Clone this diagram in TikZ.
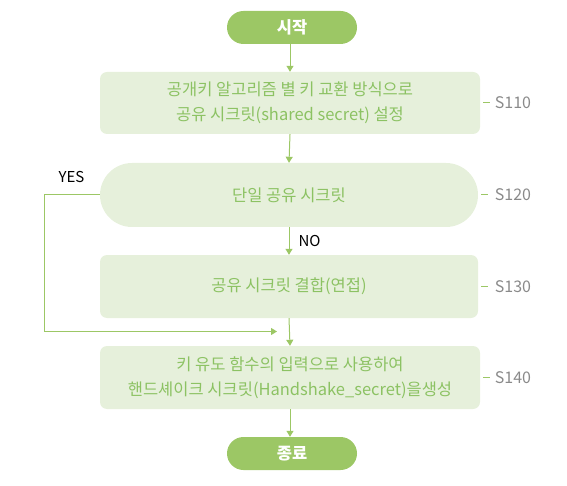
\documentclass[tikz,border=0pt]{standalone}
\usepackage{fontspec}
\setmainfont{Noto Sans CJK KR}
\usetikzlibrary{arrows.meta}
\definecolor{gfill}{HTML}{E6F0DB}
\definecolor{gtext}{HTML}{8CC263}
\definecolor{gdark}{HTML}{9CC765}
\definecolor{glabel}{HTML}{8A8A8A}
\tikzset{
  x=1pt,y=-1pt,
  term/.style={fill=gdark,text=white,font=\fontsize{16.5}{18}\selectfont\bfseries,rounded corners=16.5pt,minimum width=130pt,minimum height=33pt,inner sep=0pt},
  procbox/.style={fill=gfill,text=gtext,font=\fontsize{16.5}{24.5}\selectfont,rounded corners=7pt,minimum width=380pt,minimum height=62pt,inner sep=0pt,align=center},
  pill/.style={fill=gfill,text=gtext,font=\fontsize{16.5}{24.5}\selectfont,rounded corners=32pt,minimum width=378pt,minimum height=64pt,inner sep=0pt,align=center},
  conn/.style={draw=gdark,line width=1pt},
  arr/.style={conn,-{Triangle[width=7pt,length=6pt]}},
  steplabel/.style={text=glabel,font=\fontsize{16}{18}\selectfont,inner sep=0pt},
  yn/.style={text=black,font=\fontsize{15}{17}\selectfont,inner sep=0pt}
}
\begin{document}
\begin{tikzpicture}
\useasboundingbox (0,0) rectangle (567,486);
\node[term] (start) at (292,27.5) {시작};
\node[procbox] (s110) at (290,103) {공개키 알고리즘 별 키 교환 방식으로\\공유 시크릿(shared secret) 설정};
\node[pill] (s120) at (289,195) {단일 공유 시크릿};
\node[procbox,minimum width=378pt,minimum height=63pt] (s130) at (289,286.5) {공유 시크릿 결합(연접)};
\node[procbox,minimum height=63pt] (s140) at (290,377.5) {키 유도 함수의 입력으로 사용하여\\핸드셰이크 시크릿(Handshake\_secret)을생성};
\node[term] (end) at (292,453.5) {종료};
\node[steplabel] (l110) at (513,103) {S110};
\node[steplabel] (l120) at (513,195) {S120};
\node[steplabel] (l130) at (513,286.5) {S130};
\node[steplabel] (l140) at (513,378) {S140};
\draw[conn] (s110.east) ++(3,0) -- ++(7,0);
\draw[conn] (s120.east) ++(3,0) -- ++(7,0);
\draw[conn] (s130.east) ++(3,0) -- ++(7,0);
\draw[conn] (s140.east) ++(3,0) -- ++(7,0);
\draw[arr] (start.south -| s110.north) -- (s110.north);
\draw[arr] (s110.south) -- (s120.north);
\draw[arr] (s120.south) -- (s130.north);
\draw[arr] (s130.south) -- (s140.north);
\draw[arr] (s140.south) -- (s140.south |- end.north);
\coordinate (yesjoin) at (277,331.5);
\draw[arr] (s120.west) -- (44,195) -- (44,331.5) -- (yesjoin);
\node[yn] (yes) at (71.5,177.5) {YES};
\node[yn] (no) at (309.5,241) {NO};
\end{tikzpicture}
\end{document}
